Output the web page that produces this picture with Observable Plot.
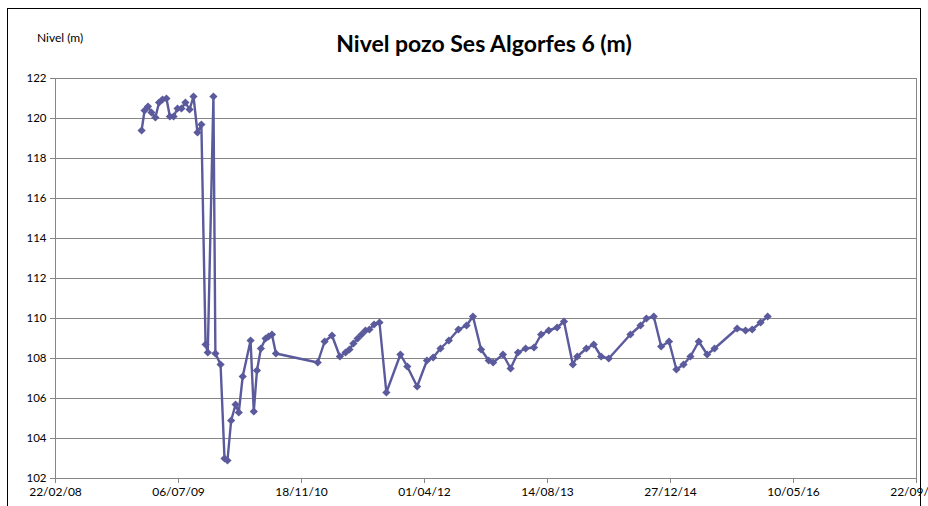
<!DOCTYPE html>
<html><head><meta charset="utf-8">
<script src="https://cdn.jsdelivr.net/npm/d3@7"></script>
<script src="https://cdn.jsdelivr.net/npm/@observablehq/plot@0.6"></script>
<style>
html,body{margin:0;padding:0;background:#fff;overflow:hidden;}
#wrap{position:relative;width:928px;height:506px;overflow:hidden;font-family:Lato,sans-serif;}
#chart{position:absolute;left:0;top:0;}
#border{position:absolute;left:7px;top:8px;width:914px;height:540px;border:1px solid #000;box-sizing:border-box;pointer-events:none;}
#title{position:absolute;left:0;width:968px;top:29px;text-align:center;font-weight:bold;font-size:23px;color:#000;}
#ylab{position:absolute;left:37px;top:30px;font-size:12px;color:#000;}
</style></head><body>
<div id="wrap"><div id="chart"></div><div id="border"></div>
<div id="title">Nivel pozo Ses Algorfes 6 (m)</div><div id="ylab">Nivel (m)</div></div>
<script>
const dates = [
"2009-02-06","2009-02-18","2009-03-04","2009-03-18","2009-04-03","2009-04-18","2009-05-02","2009-05-18",
"2009-06-01","2009-06-16","2009-07-02","2009-07-18","2009-08-03","2009-08-20","2009-09-05","2009-09-21",
"2009-10-07","2009-10-24","2009-11-02","2009-11-25","2009-12-03","2009-12-24","2010-01-09","2010-01-21",
"2010-02-05","2010-02-23","2010-03-08","2010-03-24","2010-04-25","2010-05-08","2010-05-21","2010-06-06",
"2010-06-25","2010-07-07","2010-07-21","2010-08-06","2011-01-23","2011-02-20","2011-03-22","2011-04-23",
"2011-05-16","2011-06-01","2011-06-17","2011-07-04","2011-07-20","2011-08-05","2011-08-21","2011-09-09",
"2011-10-01","2011-10-29","2011-12-25","2012-01-22","2012-03-02","2012-04-11","2012-05-06","2012-06-05",
"2012-07-09","2012-08-17","2012-09-19","2012-10-15","2012-11-17","2012-12-18","2013-01-05","2013-02-14",
"2013-03-17","2013-04-16","2013-05-17","2013-06-20","2013-07-19","2013-08-19","2013-09-22","2013-10-20",
"2013-11-25","2013-12-13","2014-01-19","2014-02-18","2014-03-20","2014-04-20","2014-07-17","2014-08-27",
"2014-09-20","2014-10-20","2014-11-19","2014-12-21","2015-01-20","2015-02-18","2015-03-18","2015-04-21",
"2015-05-25","2015-06-24","2015-09-24","2015-10-28","2015-11-24","2015-12-28","2016-01-26"
];
const levels = [
119.4,120.4,120.6,120.3,120.05,120.8,120.95,121.0,
120.1,120.1,120.5,120.5,120.8,120.45,121.1,119.3,
119.7,108.7,108.3,121.1,108.25,107.7,103.0,102.9,
104.9,105.7,105.3,107.1,108.9,105.35,107.4,108.5,
109.0,109.1,109.2,108.25,107.8,108.85,109.15,108.1,
108.3,108.45,108.75,109.0,109.2,109.4,109.45,109.7,
109.8,106.3,108.2,107.6,106.6,107.9,108.05,108.5,
108.9,109.45,109.65,110.1,108.45,107.9,107.8,108.2,
107.5,108.3,108.5,108.55,109.2,109.4,109.55,109.85,
107.7,108.1,108.5,108.7,108.1,108.0,109.2,109.65,
110.0,110.1,108.6,108.85,107.45,107.7,108.1,108.85,
108.2,108.5,109.5,109.4,109.45,109.8,110.1
];
const xTickLabels = ["22/02/08","06/07/09","18/11/10","01/04/12","14/08/13","27/12/14","10/05/16","22/09/17"];
const yTicks = [102,104,106,108,110,112,114,116,118,120,122];

const color = "#5a5a9c";
const gridColor = "#868686";
const parse = d3.utcParse("%Y-%m-%d");
const parseTick = d3.utcParse("%d/%m/%y");
const data = dates.map((d, i) => ({date: parse(d), level: levels[i]}));
const xTicks = xTickLabels.map(parseTick);

const chart = Plot.plot({
  width: 928, height: 506,
  marginLeft: 55, marginRight: 12, marginTop: 78, marginBottom: 28,
  style: {fontFamily: "Lato, sans-serif", fontSize: "12px", color: "#000", background: "transparent", overflow: "hidden"},
  x: {type: "utc", domain: [xTicks[0], xTicks[xTicks.length - 1]]},
  y: {domain: [102, 122]},
  marks: [
    Plot.gridY(yTicks, {stroke: gridColor, strokeOpacity: 1}),
    Plot.frame({stroke: gridColor}),
    Plot.axisY(yTicks, {tickSize: 5, tickPadding: 4, stroke: gridColor, label: null, fontSize: 11.5, fill: "#000"}),
    Plot.axisX(xTicks, {tickSize: 5, tickPadding: 4, tickFormat: (d, i) => xTickLabels[i], stroke: gridColor, label: null, fontSize: 12, fill: "#000"}),
    Plot.line(data, {x: "date", y: "level", stroke: color, strokeWidth: 2.4}),
    Plot.dot(data, {x: "date", y: "level", symbol: "diamond2", fill: color, stroke: null, r: 3.7})
  ]
});
document.getElementById("chart").appendChild(chart);
</script>
</body></html>
